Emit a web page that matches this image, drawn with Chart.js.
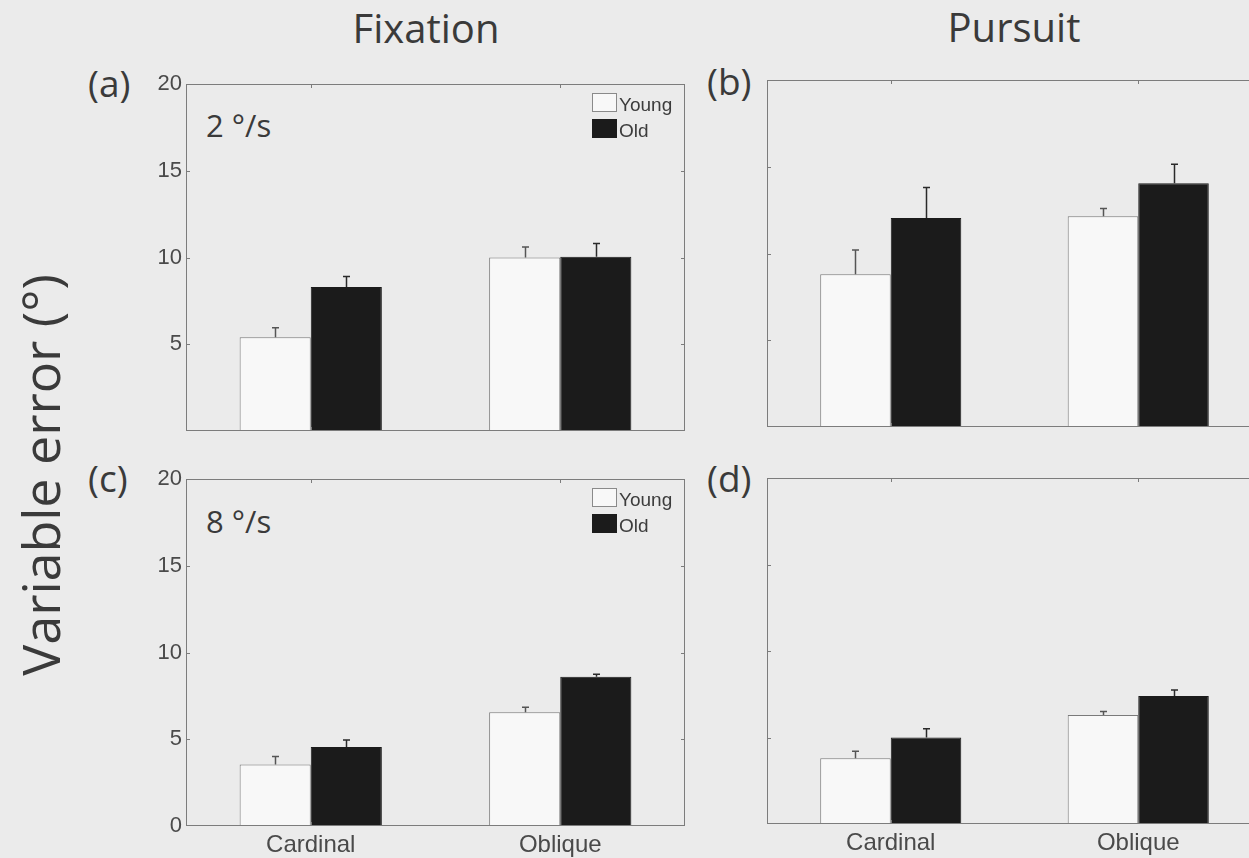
<!DOCTYPE html>
<html>
<head>
<meta charset="utf-8">
<script src="https://cdn.jsdelivr.net/npm/chart.js@4.4.1/dist/chart.umd.min.js"></script>
<style>
    html, body { margin: 0; padding: 0; width: 1249px; height: 858px; overflow: hidden; background: #ebebeb; }
    canvas { position: absolute; }
    .txt { position: absolute; color: #3a3a3a; font-family: 'Open Sans', sans-serif; white-space: nowrap; line-height: 1; }
</style>
</head>
<body>
<div class="txt" style="left:426px; top:8px; font-size:40px; transform:translateX(-50%)">Fixation</div>
<div class="txt" style="left:1014px; top:7px; font-size:40px; transform:translateX(-50%)">Pursuit</div>
<div class="txt" style="left:40px; top:475px; font-size:52px; transform:translate(-50%, -50%) rotate(-90deg)">Variable error (°)</div>
<div class="txt" style="left:88px; top:64px; font-size:37px">(a)</div>
<div class="txt" style="left:707px; top:62px; font-size:37px">(b)</div>
<div class="txt" style="left:88px; top:459px; font-size:37px">(c)</div>
<div class="txt" style="left:707px; top:459px; font-size:37px">(d)</div>
<div class="txt" style="left:206px; top:110px; font-size:31px">2 °/s</div>
<div class="txt" style="left:206px; top:506px; font-size:31px">8 °/s</div>

<canvas id="panelA"></canvas>
<canvas id="panelB"></canvas>
<canvas id="panelC"></canvas>
<canvas id="panelD"></canvas>

<script>
/* ============================
   Datos
============================ */
const CATEGORIES = ['Cardinal', 'Oblique']
const SERIES = ['Young', 'Old']
const Y_MAX = 20
const Y_STEP = 5

// (a) fijación 2 °/s
const FIX2_YOUNG = [5.4, 10.0]
const FIX2_YOUNG_ERR = [0.55, 0.6]
const FIX2_OLD = [8.3, 10.05]
const FIX2_OLD_ERR = [0.6, 0.75]

// (b) persecución 2 °/s
const PUR2_YOUNG = [8.8, 12.15]
const PUR2_YOUNG_ERR = [1.4, 0.45]
const PUR2_OLD = [12.05, 14.05]
const PUR2_OLD_ERR = [1.75, 1.1]

// (c) fijación 8 °/s
const FIX8_YOUNG = [3.55, 6.55]
const FIX8_YOUNG_ERR = [0.45, 0.3]
const FIX8_OLD = [4.55, 8.6]
const FIX8_OLD_ERR = [0.4, 0.15]

// (d) persecución 8 °/s
const PUR8_YOUNG = [3.8, 6.3]
const PUR8_YOUNG_ERR = [0.4, 0.2]
const PUR8_OLD = [5.0, 7.4]
const PUR8_OLD_ERR = [0.5, 0.35]

const AXIS_COLOR = '#7c7c7c'
const TICK_COLOR = '#4a4a4a'
const YOUNG_FILL = '#f8f8f8'
const OLD_FILL = '#1b1b1b'

// ============================
// Plugins
// ============================
const framePlugin = {
    id: 'frame',
    afterDraw(chart) {
        const { ctx, chartArea: a, scales } = chart
        ctx.save()
        ctx.strokeStyle = AXIS_COLOR
        ctx.lineWidth = 1
        ctx.strokeRect(a.left + 0.5, a.top + 0.5, a.right - a.left - 1, a.bottom - a.top - 1)
        ctx.beginPath()
        for (let v = Y_STEP; v < Y_MAX; v += Y_STEP) {
            const y = Math.round(scales.y.getPixelForValue(v)) + 0.5
            ctx.moveTo(a.left, y); ctx.lineTo(a.left + 4, y)
            ctx.moveTo(a.right, y); ctx.lineTo(a.right - 4, y)
        }
        CATEGORIES.forEach((c, i) => {
            const x = Math.round(scales.x.getPixelForTick(i)) + 0.5
            ctx.moveTo(x, a.top); ctx.lineTo(x, a.top + 4)
            ctx.moveTo(x, a.bottom); ctx.lineTo(x, a.bottom - 4)
        })
        ctx.stroke()
        ctx.restore()
    }
}

const errorBarPlugin = {
    id: 'errorBars',
    afterDatasetsDraw(chart) {
        const { ctx, scales } = chart
        ctx.save()
        chart.data.datasets.forEach((ds, di) => {
            const meta = chart.getDatasetMeta(di)
            ctx.strokeStyle = di === 0 ? '#555555' : '#2a2a2a'
            ctx.lineWidth = 1.5
            meta.data.forEach((bar, i) => {
                const top = scales.y.getPixelForValue(ds.data[i] + ds.err[i])
                const x = Math.round(bar.x) + 0.5
                ctx.beginPath()
                ctx.moveTo(x, bar.y)
                ctx.lineTo(x, top)
                ctx.moveTo(x - 3.5, top)
                ctx.lineTo(x + 3.5, top)
                ctx.stroke()
            })
        })
        ctx.restore()
    }
}

const boxLegendPlugin = {
    id: 'boxLegend',
    afterDraw(chart, args, opts) {
        if (!opts.display) return
        const { ctx, chartArea: a } = chart
        ctx.save()
        ctx.font = '19px "Liberation Sans", Arial, sans-serif'
        ctx.textBaseline = 'alphabetic'
        chart.data.datasets.forEach((ds, i) => {
            const bx = a.right - 93
            const by = a.top + 9 + i * 26
            ctx.fillStyle = ds.backgroundColor
            ctx.fillRect(bx, by, 25, 19)
            ctx.strokeStyle = i === 0 ? '#8a8a8a' : ds.backgroundColor
            ctx.lineWidth = 1
            ctx.strokeRect(bx + 0.5, by + 0.5, 24, 18)
            ctx.fillStyle = '#3c3c3c'
            ctx.fillText(ds.label, bx + 27, by + 18)
        })
        ctx.restore()
    }
}

// ============================
// Paneles
// ============================
function makePanel(id, area, young, youngErr, old, oldErr, opts) {
    const canvas = document.getElementById(id)
    const w = area.right - area.left + 80
    const h = area.bottom - area.top + 60
    canvas.width = w
    canvas.height = h
    canvas.style.left = `${area.left - 60}px`
    canvas.style.top = `${area.top - 20}px`

    return new Chart(canvas.getContext('2d'), {
        type: 'bar',
        data: {
            labels: CATEGORIES,
            datasets: [
                { label: SERIES[0], data: young, err: youngErr, backgroundColor: YOUNG_FILL, borderColor: '#7a7a7a', borderWidth: 1, categoryPercentage: 0.57, barPercentage: 1 },
                { label: SERIES[1], data: old, err: oldErr, backgroundColor: OLD_FILL, borderColor: OLD_FILL, borderWidth: 1, categoryPercentage: 0.57, barPercentage: 1 }
            ]
        },
        options: {
            responsive: false,
            animation: false,
            devicePixelRatio: 1,
            layout: { padding: { top: 20, right: 20, left: 0, bottom: 0 } },
            plugins: {
                legend: { display: false },
                tooltip: { enabled: false },
                boxLegend: { display: opts.legend }
            },
            scales: {
                x: {
                    offset: true,
                    grid: { display: false, drawTicks: false },
                    border: { display: false },
                    ticks: {
                        display: opts.showX,
                        color: TICK_COLOR,
                        font: { family: '"Liberation Sans", Arial, sans-serif', size: 24 },
                        padding: 5,
                        maxRotation: 0
                    },
                    afterFit: s => { s.height = 40 }
                },
                y: {
                    min: 0,
                    max: Y_MAX,
                    grid: { display: false, drawTicks: false },
                    border: { display: false },
                    ticks: {
                        display: opts.showY,
                        stepSize: Y_STEP,
                        color: TICK_COLOR,
                        font: { family: '"Liberation Sans", Arial, sans-serif', size: 22 },
                        padding: 4,
                        callback: v => (v === 0 && opts.hideZero) ? '' : v
                    },
                    afterFit: s => { s.width = 60 }
                }
            }
        },
        plugins: [framePlugin, errorBarPlugin, boxLegendPlugin]
    })
}

makePanel('panelA', { left: 186, top: 84, right: 685, bottom: 431 },
    FIX2_YOUNG, FIX2_YOUNG_ERR, FIX2_OLD, FIX2_OLD_ERR,
    { showX: false, showY: true, hideZero: true, legend: true })

makePanel('panelB', { left: 767, top: 80, right: 1262, bottom: 427 },
    PUR2_YOUNG, PUR2_YOUNG_ERR, PUR2_OLD, PUR2_OLD_ERR,
    { showX: false, showY: false, hideZero: true, legend: false })

makePanel('panelC', { left: 186, top: 479, right: 685, bottom: 826 },
    FIX8_YOUNG, FIX8_YOUNG_ERR, FIX8_OLD, FIX8_OLD_ERR,
    { showX: true, showY: true, hideZero: false, legend: true })

makePanel('panelD', { left: 767, top: 478, right: 1262, bottom: 824 },
    PUR8_YOUNG, PUR8_YOUNG_ERR, PUR8_OLD, PUR8_OLD_ERR,
    { showX: true, showY: false, hideZero: false, legend: false })
</script>
</body>
</html>
